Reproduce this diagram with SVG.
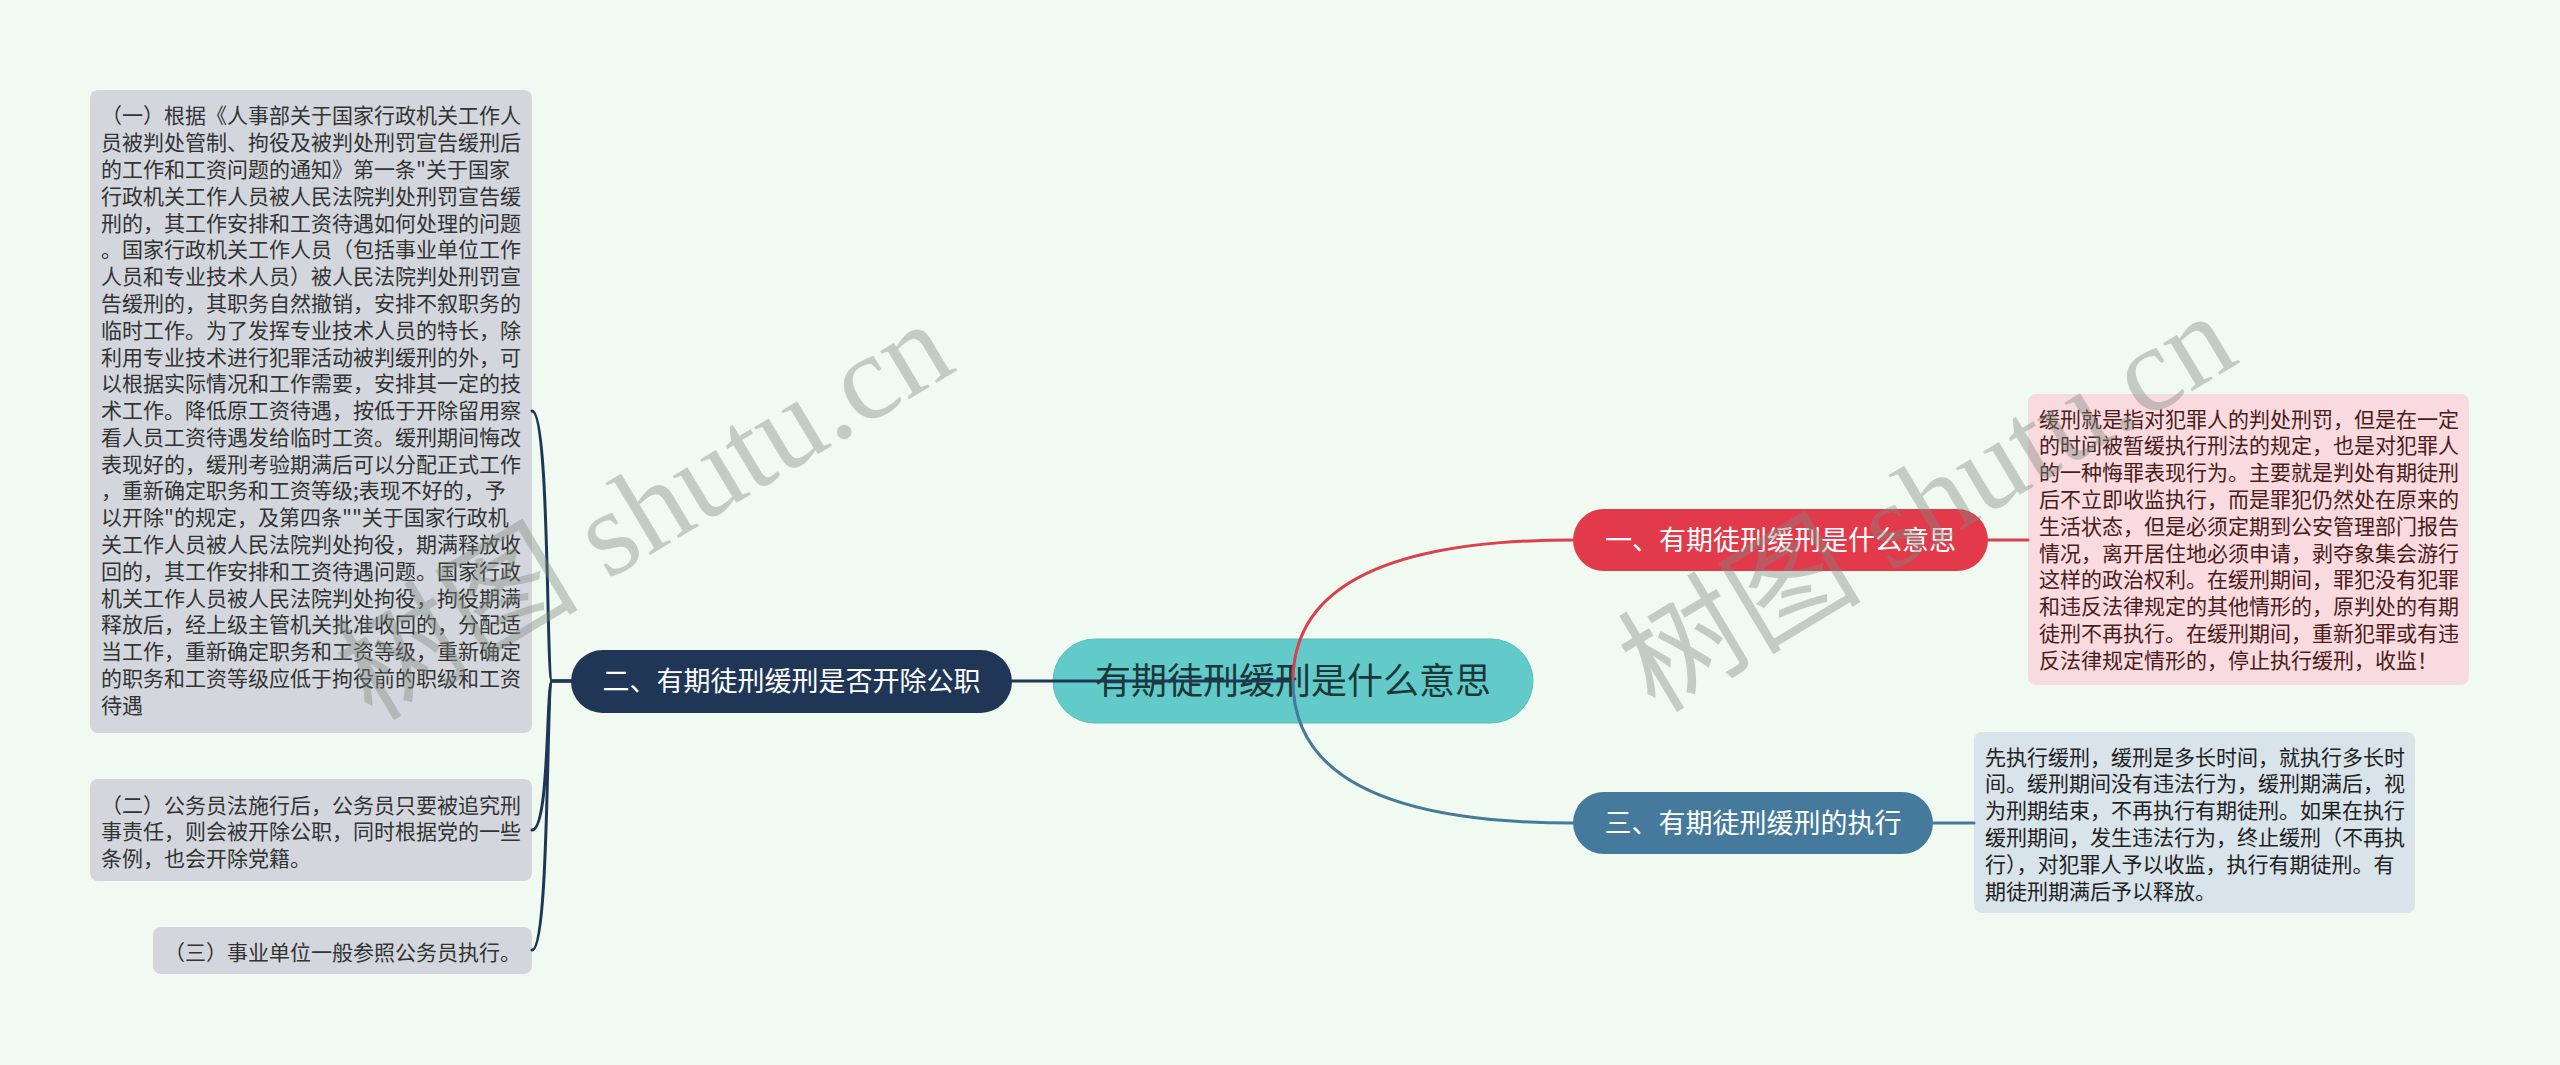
<svg xmlns="http://www.w3.org/2000/svg" width="2560" height="1065" viewBox="0 0 2560 1065">
<style>
.cjk{font-family:"Noto Sans CJK SC","Noto Sans",sans-serif;}
.body{font-size:21px;}
.lbox{fill:#d3d7dd;}
.ltxt{fill:#333333;}
.ntxt{font-size:27px;fill:#ffffff;}
.conn{fill:none;stroke-width:3;stroke-linecap:round;}
.wm{font-family:"Liberation Serif","Noto Sans CJK SC",serif;font-size:122px;fill:#7f8a80;opacity:0.4;}
</style>
<rect x="0" y="0" width="2560" height="1065" fill="#f0faf0"/>

<g id="center">
<rect x="1053" y="639" width="480" height="84" rx="42" fill="#63caca" stroke="#5bbcbd" stroke-width="1"/>
<text class="cjk" x="1293" y="694" text-anchor="middle" font-size="36" fill="#1b3838">有期徒刑缓刑是什么意思</text>
</g>

<g id="node1">
<rect x="1573" y="509" width="415" height="62" rx="31" fill="#e33a4b"/>
<text class="cjk ntxt" x="1780.5" y="549.5" text-anchor="middle">一、有期徒刑缓刑是什么意思</text>
</g>

<g id="node1-detail">
<rect x="2028" y="394" width="441" height="291" rx="8" fill="#f9dade"/>
<text class="cjk body" fill="#4a1c1c">
<tspan x="2039" y="426.6">缓刑就是指对犯罪人的判处刑罚，但是在一定</tspan>
<tspan x="2039" dy="26.8">的时间被暂缓执行刑法的规定，也是对犯罪人</tspan>
<tspan x="2039" dy="26.8">的一种悔罪表现行为。主要就是判处有期徒刑</tspan>
<tspan x="2039" dy="26.8">后不立即收监执行，而是罪犯仍然处在原来的</tspan>
<tspan x="2039" dy="26.8">生活状态，但是必须定期到公安管理部门报告</tspan>
<tspan x="2039" dy="26.8">情况，离开居住地必须申请，剥夺象集会游行</tspan>
<tspan x="2039" dy="26.8">这样的政治权利。在缓刑期间，罪犯没有犯罪</tspan>
<tspan x="2039" dy="26.8">和违反法律规定的其他情形的，原判处的有期</tspan>
<tspan x="2039" dy="26.8">徒刑不再执行。在缓刑期间，重新犯罪或有违</tspan>
<tspan x="2039" dy="26.8">反法律规定情形的，停止执行缓刑，收监！</tspan>
</text>
</g>

<g id="node3">
<rect x="1573" y="792" width="360" height="62" rx="31" fill="#457a9c"/>
<text class="cjk ntxt" x="1753" y="832.5" text-anchor="middle">三、有期徒刑缓刑的执行</text>
</g>

<g id="node3-detail">
<rect x="1974" y="732" width="441" height="181" rx="8" fill="#d9e3ea"/>
<text class="cjk body" fill="#222222">
<tspan x="1985" y="764.6">先执行缓刑，缓刑是多长时间，就执行多长时</tspan>
<tspan x="1985" dy="26.8">间。缓刑期间没有违法行为，缓刑期满后，视</tspan>
<tspan x="1985" dy="26.8">为刑期结束，不再执行有期徒刑。如果在执行</tspan>
<tspan x="1985" dy="26.8">缓刑期间，发生违法行为，终止缓刑（不再执</tspan>
<tspan x="1985" dy="26.8">行），对犯罪人予以收监，执行有期徒刑。有</tspan>
<tspan x="1985" dy="26.8">期徒刑期满后予以释放。</tspan>
</text>
</g>

<g id="node2">
<rect x="571" y="650" width="441" height="63" rx="31.5" fill="#1f3657"/>
<text class="cjk ntxt" x="791.5" y="691.2" text-anchor="middle">二、有期徒刑缓刑是否开除公职</text>
</g>

<g id="node2-detail1">
<rect class="lbox" x="90" y="90" width="442" height="643" rx="8"/>
<text class="cjk body ltxt">
<tspan x="101" y="123.3">（一）根据《人事部关于国家行政机关工作人</tspan>
<tspan x="101" dy="26.8">员被判处管制、拘役及被判处刑罚宣告缓刑后</tspan>
<tspan x="101" dy="26.8">的工作和工资问题的通知》第一条"关于国家</tspan>
<tspan x="101" dy="26.8">行政机关工作人员被人民法院判处刑罚宣告缓</tspan>
<tspan x="101" dy="26.8">刑的，其工作安排和工资待遇如何处理的问题</tspan>
<tspan x="101" dy="26.8">。国家行政机关工作人员（包括事业单位工作</tspan>
<tspan x="101" dy="26.8">人员和专业技术人员）被人民法院判处刑罚宣</tspan>
<tspan x="101" dy="26.8">告缓刑的，其职务自然撤销，安排不叙职务的</tspan>
<tspan x="101" dy="26.8">临时工作。为了发挥专业技术人员的特长，除</tspan>
<tspan x="101" dy="26.8">利用专业技术进行犯罪活动被判缓刑的外，可</tspan>
<tspan x="101" dy="26.8">以根据实际情况和工作需要，安排其一定的技</tspan>
<tspan x="101" dy="26.8">术工作。降低原工资待遇，按低于开除留用察</tspan>
<tspan x="101" dy="26.8">看人员工资待遇发给临时工资。缓刑期间悔改</tspan>
<tspan x="101" dy="26.8">表现好的，缓刑考验期满后可以分配正式工作</tspan>
<tspan x="101" dy="26.8">，重新确定职务和工资等级;表现不好的，予</tspan>
<tspan x="101" dy="26.8">以开除"的规定，及第四条""关于国家行政机</tspan>
<tspan x="101" dy="26.8">关工作人员被人民法院判处拘役，期满释放收</tspan>
<tspan x="101" dy="26.8">回的，其工作安排和工资待遇问题。国家行政</tspan>
<tspan x="101" dy="26.8">机关工作人员被人民法院判处拘役，拘役期满</tspan>
<tspan x="101" dy="26.8">释放后，经上级主管机关批准收回的，分配适</tspan>
<tspan x="101" dy="26.8">当工作，重新确定职务和工资等级，重新确定</tspan>
<tspan x="101" dy="26.8">的职务和工资等级应低于拘役前的职级和工资</tspan>
<tspan x="101" dy="26.8">待遇</tspan>
</text>
</g>

<g id="node2-detail2">
<rect class="lbox" x="90" y="779" width="442" height="102" rx="8"/>
<text class="cjk body ltxt">
<tspan x="101" y="812.6">（二）公务员法施行后，公务员只要被追究刑</tspan>
<tspan x="101" dy="26.8">事责任，则会被开除公职，同时根据党的一些</tspan>
<tspan x="101" dy="26.8">条例，也会开除党籍。</tspan>
</text>
</g>

<g id="node2-detail3">
<rect class="lbox" x="153" y="927" width="379" height="47" rx="8"/>
<text class="cjk body ltxt" x="164" y="959.6">（三）事业单位一般参照公务员执行。</text>
</g>

<g id="connectors">
<path class="conn" stroke="#1f3657" d="M1293 681 L1012 681"/>
<path class="conn" stroke="#d9414f" d="M1293 681 Q1293 540 1573 540"/>
<path class="conn" stroke="#457a9c" d="M1293 681 Q1293 823 1573 823"/>
<path class="conn" stroke="#d9414f" d="M1988 540 L2028 540"/>
<path class="conn" stroke="#457a9c" d="M1933 823 L1974 823"/>
<path class="conn" stroke="#1f3657" d="M571 681 L552 681 C546 681 550 411 532 411"/>
<path class="conn" stroke="#1f3657" d="M571 681 L552 681 C546 681 550 830 532 830"/>
<path class="conn" stroke="#1f3657" d="M571 681 L552 681 C546 681 550 950 532 950"/>
</g>

<g id="watermarks">
<text class="wm" transform="translate(372 722) rotate(-31)">树图 shutu.cn</text>
<text class="wm" transform="translate(1655 714) rotate(-31)">树图 shutu.cn</text>
</g>
</svg>
